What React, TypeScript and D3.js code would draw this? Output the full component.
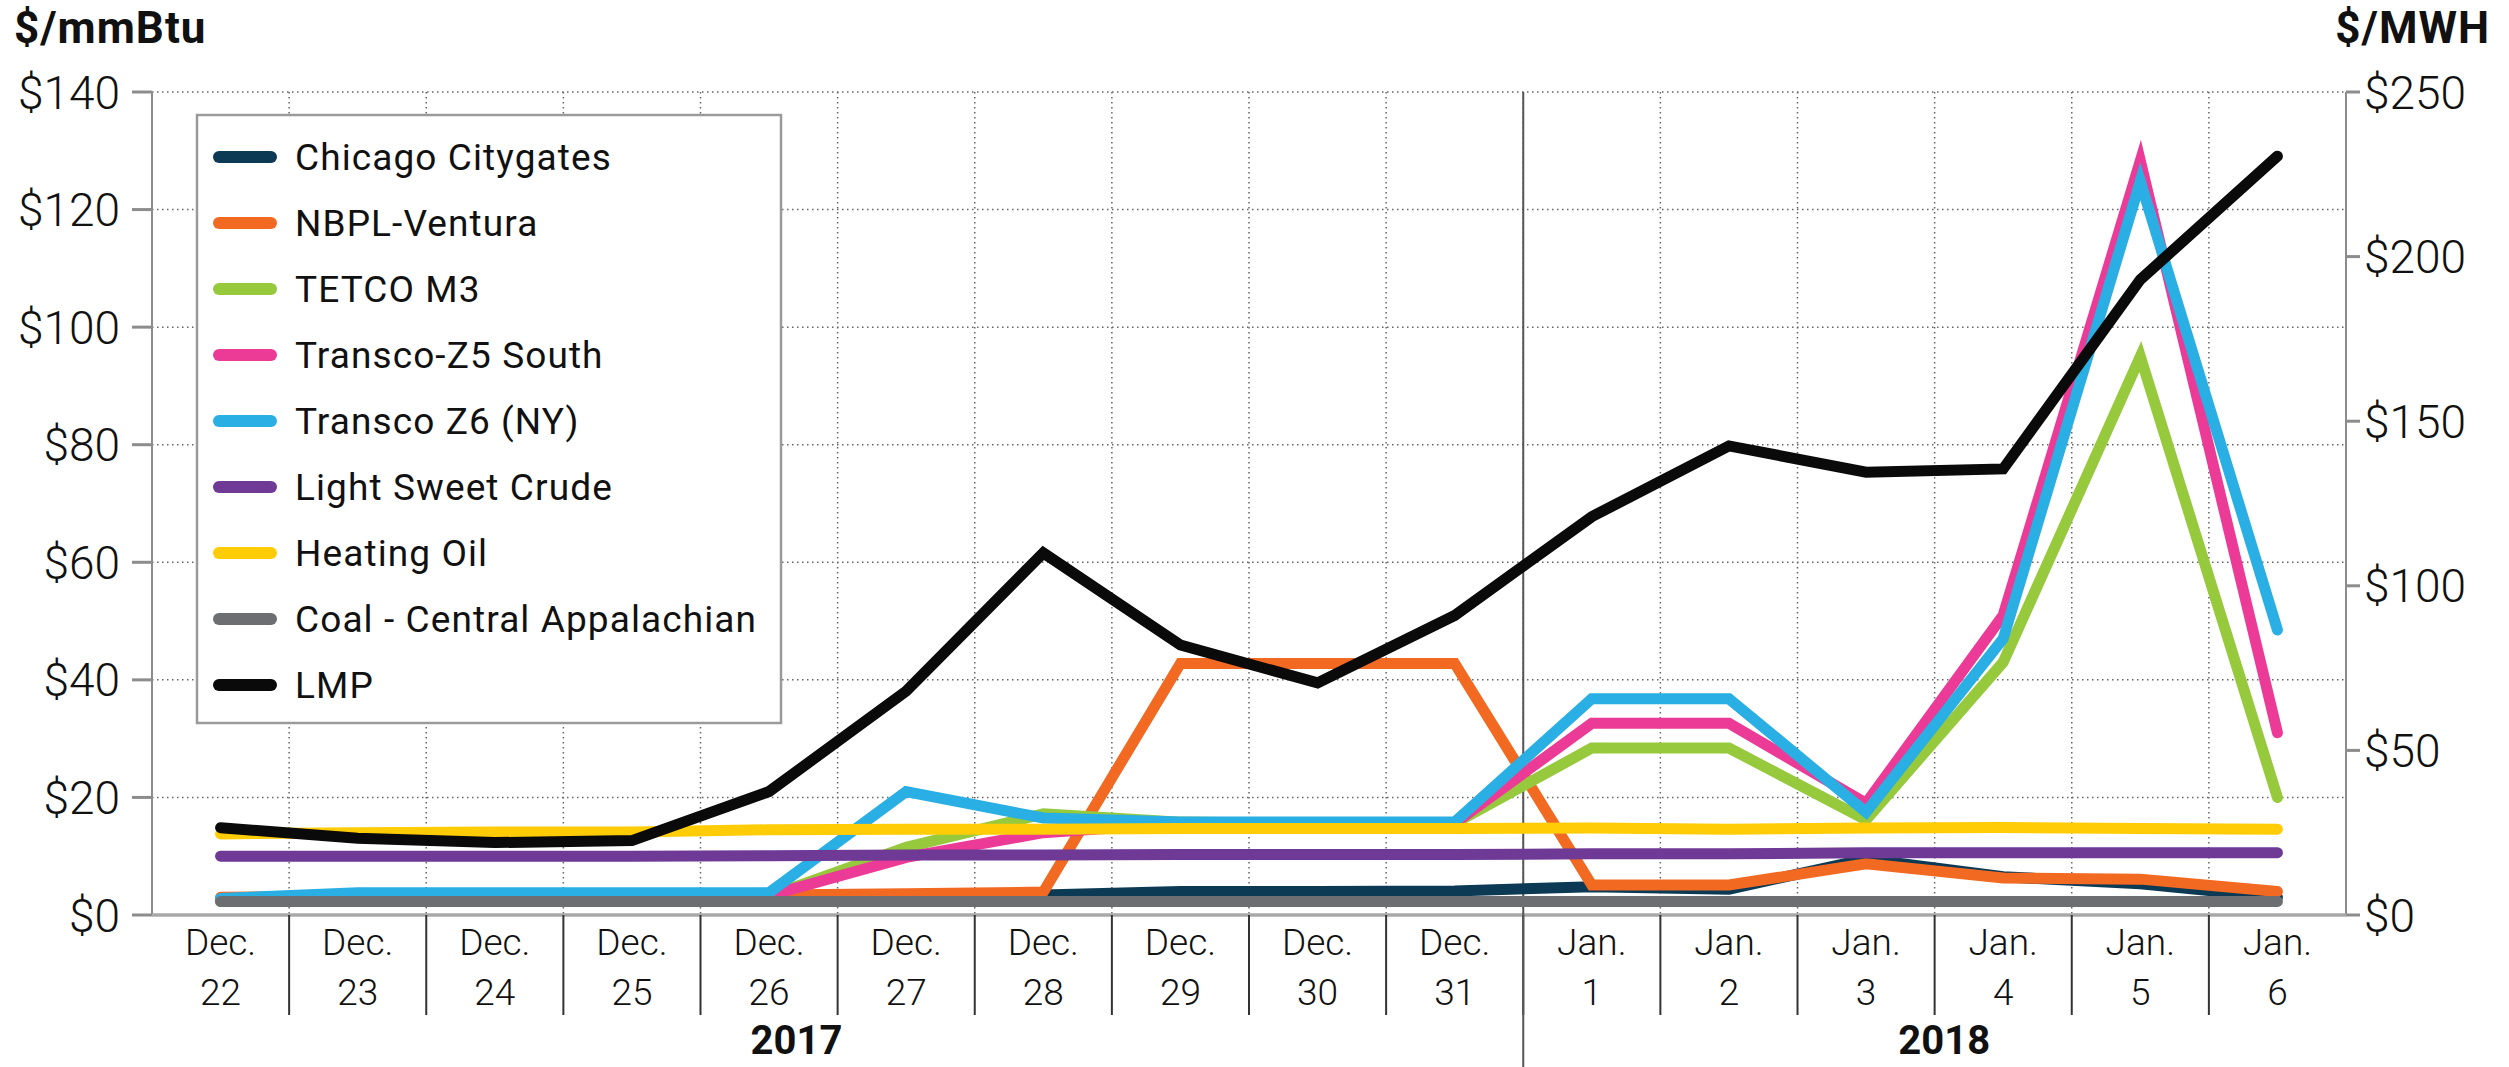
import React from 'react';
import * as d3 from 'd3';

// categories (one per day) and the years below them
const categories = [
  'Dec. 22', 'Dec. 23', 'Dec. 24', 'Dec. 25', 'Dec. 26', 'Dec. 27', 'Dec. 28', 'Dec. 29',
  'Dec. 30', 'Dec. 31', 'Jan. 1', 'Jan. 2', 'Jan. 3', 'Jan. 4', 'Jan. 5', 'Jan. 6'
];
const years = ['2017', '2018'];

// $/mmBtu series
const chicago = [2.5, 2.5, 2.5, 2.5, 2.5, 2.8, 3.4, 4.0, 4.0, 4.1, 4.8, 4.4, 9.5, 6.5, 5.3, 3.0];
const nbpl = [3.0, 3.2, 3.2, 3.2, 3.4, 3.6, 3.9, 42.8, 42.8, 42.8, 5.1, 5.1, 8.7, 6.3, 6.1, 4.0];
const tetco = [2.3, 2.5, 2.5, 2.5, 3.2, 11.5, 17.2, 15.8, 15.6, 15.6, 28.4, 28.4, 16.2, 43, 95, 20];
const transcoZ5 = [2.5, 2.5, 2.5, 2.5, 3.3, 9.8, 14.0, 15.6, 15.6, 15.6, 32.6, 32.6, 19.0, 51, 128.3, 31];
const transcoZ6 = [2.8, 3.8, 3.8, 3.8, 3.8, 21.0, 16.5, 15.8, 15.8, 15.8, 36.8, 36.8, 17.5, 47, 124.8, 48.5];
const crude = [10.0, 10.0, 10.0, 10.0, 10.1, 10.2, 10.2, 10.3, 10.3, 10.3, 10.4, 10.4, 10.6, 10.6, 10.6, 10.6];
const heatingOil = [13.8, 14.0, 14.1, 14.1, 14.5, 14.6, 14.6, 14.7, 14.7, 14.7, 14.8, 14.6, 14.8, 14.9, 14.7, 14.6];
const coal = [2.3, 2.3, 2.3, 2.3, 2.3, 2.3, 2.3, 2.3, 2.3, 2.3, 2.3, 2.3, 2.3, 2.3, 2.3, 2.3];
// $/MWH (right axis)
const lmp = [26.5, 23.3, 22.0, 22.6, 37.5, 68, 110, 82, 70.5, 91, 121, 142.5, 134.5, 135.5, 193, 230.5];

const leftTicks = [0, 20, 40, 60, 80, 100, 120, 140];
const rightTicks = [0, 50, 100, 150, 200, 250];

const series = [
  { name: 'Chicago Citygates', values: chicago, color: '#0c3a55', axis: 'left' },
  { name: 'NBPL-Ventura', values: nbpl, color: '#f26a22', axis: 'left' },
  { name: 'TETCO M3', values: tetco, color: '#97c93c', axis: 'left' },
  { name: 'Transco-Z5 South', values: transcoZ5, color: '#ec3b97', axis: 'left' },
  { name: 'Transco Z6 (NY)', values: transcoZ6, color: '#29afe3', axis: 'left' },
  { name: 'Light Sweet Crude', values: crude, color: '#6f3996', axis: 'left' },
  { name: 'Heating Oil', values: heatingOil, color: '#ffcc05', axis: 'left' },
  { name: 'Coal - Central Appalachian', values: coal, color: '#6d6e71', axis: 'left' },
  { name: 'LMP', values: lmp, color: '#0a0a0a', axis: 'right' }
];

const W = 2509;
const H = 1067;
const margin = { top: 92, right: 163, bottom: 152, left: 152 };
const FONT = 'Roboto, "DejaVu Sans", sans-serif';

export default function App() {
  const plotW = W - margin.left - margin.right;
  const plotH = H - margin.top - margin.bottom;

  const x = d3.scaleBand().domain(categories).range([0, plotW]).padding(0);
  const bw = x.bandwidth();
  const yL = d3.scaleLinear().domain([0, 140]).range([plotH, 0]);
  const yR = d3.scaleLinear().domain([0, 250]).range([plotH, 0]);

  const boundaries = categories.slice(1).map(c => x(c));
  const yearSplit = x('Jan. 1');

  const makeLine = (axis) => d3.line()
    .x((d, i) => x(categories[i]) + bw / 2)
    .y(d => (axis === 'right' ? yR(d) : yL(d)));

  const legendX = 197 - margin.left;
  const legendY = 115 - margin.top;
  const legendStep = 66;

  return (
    <svg width={W} height={H} style={{ position: 'absolute', left: 0, top: 0, display: 'block', background: '#fff' }}
      fontFamily={FONT}>
      {/* axis titles */}
      <text x={14} y={43} fontSize={44} fontWeight={700} fill="#111" letterSpacing={1}>$/mmBtu</text>
      <text x={2490} y={43} fontSize={44} fontWeight={700} fill="#111" textAnchor="end" letterSpacing={1}>$/MWH</text>

      <g transform={`translate(${margin.left},${margin.top})`}>
        {/* dotted grid */}
        {leftTicks.filter(t => t > 0).map(t => (
          <line key={'h' + t} x1={0} x2={plotW} y1={yL(t)} y2={yL(t)}
            stroke="#666" strokeWidth={1.5} strokeDasharray="1.5 3.5" />
        ))}
        {boundaries.map((b, i) => (
          <line key={'v' + i} x1={b} x2={b} y1={0} y2={plotH}
            stroke="#666" strokeWidth={1.5} strokeDasharray="1.5 3.5" />
        ))}

        {/* axes */}
        <line x1={0} x2={0} y1={0} y2={plotH} stroke="#8c8c8c" strokeWidth={2} />
        <line x1={plotW} x2={plotW} y1={0} y2={plotH} stroke="#8c8c8c" strokeWidth={2} />
        <line x1={0} x2={plotW} y1={plotH} y2={plotH} stroke="#a8a8a8" strokeWidth={3.5} />
        {leftTicks.map(t => (
          <g key={'lt' + t}>
            <line x1={-20} x2={0} y1={yL(t)} y2={yL(t)} stroke="#8c8c8c" strokeWidth={3} />
            <text x={-32} y={yL(t)} dy="0.36em" textAnchor="end" fontSize={46} fontWeight={300} fill="#111">
              {'$' + t}
            </text>
          </g>
        ))}
        {rightTicks.map(t => (
          <g key={'rt' + t}>
            <line x1={plotW} x2={plotW + 14} y1={yR(t)} y2={yR(t)} stroke="#8c8c8c" strokeWidth={3} />
            <text x={plotW + 18} y={yR(t)} dy="0.36em" fontSize={46} fontWeight={300} fill="#111">
              {'$' + t}
            </text>
          </g>
        ))}

        {/* category labels and separators */}
        {boundaries.map((b, i) => (
          <line key={'s' + i} x1={b} x2={b} y1={plotH} y2={plotH + 100} stroke="#333" strokeWidth={2} />
        ))}
        <line x1={yearSplit} x2={yearSplit} y1={0} y2={H - margin.top} stroke="#555" strokeWidth={2} />
        {categories.map(c => {
          const [m, d] = c.split(' ');
          return (
            <text key={c} x={x(c) + bw / 2} textAnchor="middle" fontSize={37} fontWeight={300} fill="#111">
              <tspan x={x(c) + bw / 2} y={plotH + 40}>{m}</tspan>
              <tspan x={x(c) + bw / 2} y={plotH + 90}>{d}</tspan>
            </text>
          );
        })}
        <text x={x('Dec. 26') + bw * 0.7} y={plotH + 139} textAnchor="middle" fontSize={40} fontWeight={700} fill="#111">
          {years[0]}
        </text>
        <text x={x('Jan. 4') + bw * 0.07} y={plotH + 139} textAnchor="middle" fontSize={40} fontWeight={700} fill="#111">
          {years[1]}
        </text>

        {/* legend */}
        <rect x={legendX} y={legendY} width={584} height={608} fill="#fff" stroke="#9a9a9a" strokeWidth={2.5} />
        {series.map((s, i) => (
          <g key={'lg' + s.name} transform={`translate(${legendX + 22},${legendY + 42 + i * legendStep})`}>
            <line x1={0} x2={52} y1={0} y2={0} stroke={s.color} strokeWidth={12} strokeLinecap="round" />
            <text x={76} y={0} dy="0.36em" fontSize={37} letterSpacing={1.1} fill="#111">{s.name}</text>
          </g>
        ))}

        {/* series lines */}
        {series.map(s => (
          <path key={s.name} d={makeLine(s.axis)(s.values)} fill="none" stroke={s.color}
            strokeWidth={11} strokeLinecap="round" strokeLinejoin="miter" />
        ))}
      </g>
    </svg>
  );
}
